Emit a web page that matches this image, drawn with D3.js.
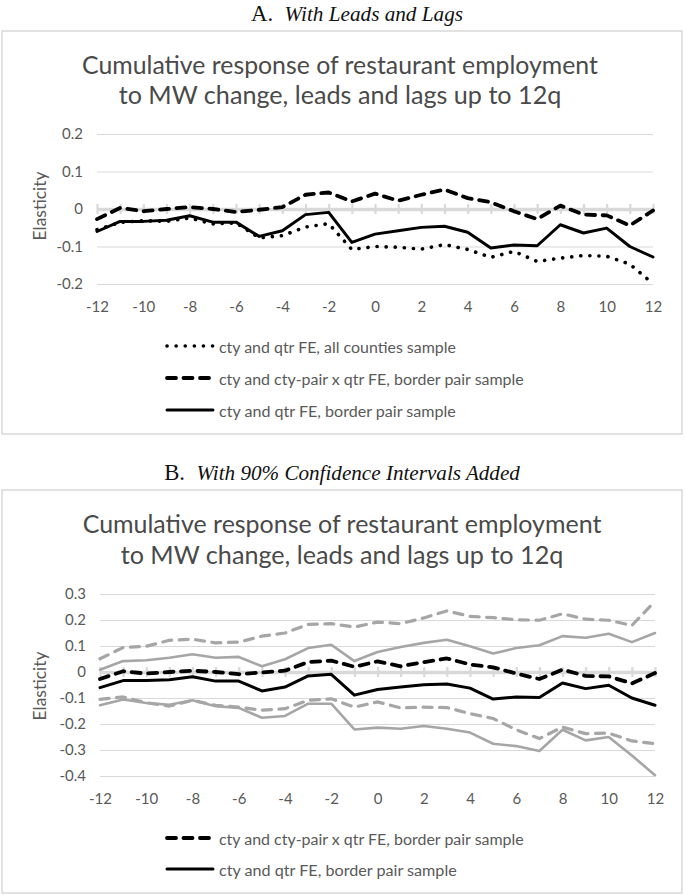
<!DOCTYPE html>
<html>
<head>
<meta charset="utf-8">
<script src="https://cdn.jsdelivr.net/npm/d3@7"></script>
<style>
  html, body { margin: 0; padding: 0; background: #fff; }
  svg { display: block; }
</style>
</head>
<body>
<svg id="chart" width="685" height="895"></svg>
<script>
// ---------- DATA ----------
const quarters = [-12,-11,-10,-9,-8,-7,-6,-5,-4,-3,-2,-1,0,1,2,3,4,5,6,7,8,9,10,11,12];
const xTickLabels = [-12,-10,-8,-6,-4,-2,0,2,4,6,8,10,12];

// cty and qtr FE, all counties sample (dotted)
const allCounties = [-0.055,-0.036,-0.031,-0.033,-0.024,-0.040,-0.037,-0.077,-0.071,-0.048,-0.039,
  -0.108,-0.100,-0.102,-0.107,-0.095,-0.108,-0.129,-0.113,-0.140,-0.131,-0.124,-0.126,-0.147,-0.199];
// cty and cty-pair x qtr FE, border pair sample (dashed)
const ctyPair = [-0.027,0.003,-0.006,0.000,0.005,0.000,-0.008,-0.002,0.005,0.038,0.044,
  0.020,0.041,0.022,0.038,0.052,0.029,0.018,-0.006,-0.027,0.009,-0.015,-0.017,-0.044,-0.004];
// cty and qtr FE, border pair sample (solid)
const borderPair = [-0.060,-0.033,-0.033,-0.030,-0.018,-0.035,-0.035,-0.073,-0.058,-0.015,-0.009,
  -0.089,-0.067,-0.058,-0.049,-0.046,-0.062,-0.104,-0.096,-0.098,-0.042,-0.064,-0.051,-0.100,-0.128];

// 90% confidence intervals
const ctyPairUpper = [0.051,0.094,0.099,0.122,0.126,0.112,0.115,0.138,0.150,0.183,0.186,
  0.173,0.192,0.186,0.208,0.235,0.214,0.209,0.201,0.199,0.224,0.203,0.199,0.179,0.272];
const ctyPairLower = [-0.105,-0.096,-0.118,-0.131,-0.109,-0.128,-0.135,-0.147,-0.141,-0.109,-0.103,
  -0.135,-0.115,-0.138,-0.135,-0.137,-0.160,-0.179,-0.222,-0.256,-0.212,-0.237,-0.235,-0.265,-0.276];
const borderPairUpper = [0.009,0.042,0.045,0.055,0.068,0.055,0.058,0.022,0.049,0.092,0.105,
  0.042,0.077,0.096,0.112,0.124,0.099,0.071,0.092,0.103,0.138,0.132,0.147,0.115,0.150];
const borderPairLower = [-0.128,-0.106,-0.119,-0.126,-0.109,-0.132,-0.138,-0.176,-0.169,-0.122,-0.122,
  -0.221,-0.214,-0.218,-0.208,-0.218,-0.233,-0.276,-0.285,-0.304,-0.222,-0.263,-0.250,-0.321,-0.397];

const ticksA = [0.2, 0.1, 0, -0.1, -0.2];
const ticksB = [0.3, 0.2, 0.1, 0, -0.1, -0.2, -0.3, -0.4];

const chartTitle = ["Cumulative response of restaurant employment", "to MW change, leads and lags up to 12q"];
const yLabel = "Elasticity";
const legendNames = ["cty and qtr FE, all counties sample",
                     "cty and cty-pair x qtr FE, border pair sample",
                     "cty and qtr FE, border pair sample"];

// ---------- STYLE ----------
const FONT = "Lato, 'Open Sans', sans-serif";
const SERIF = "'Liberation Serif', 'DejaVu Serif', serif";
const GRID = "#d9d9d9";
const TXT = "#595959";
const TITLE = "#4a4a4a";
const GRAYLINE = "#a6a6a6";

const styles = {
  dotted: { stroke: "#000", width: 3.6, dash: "0.1 9", cap: "round" },
  dashed: { stroke: "#000", width: 3.8, dash: "9 7.5", cap: "round" },
  solid:  { stroke: "#000", width: 3, dash: null, cap: "round" },
  grayDashed: { stroke: GRAYLINE, width: 3.2, dash: "9 7.5", cap: "round" },
  graySolid:  { stroke: GRAYLINE, width: 2.6, dash: null, cap: "round" }
};

const svg = d3.select("#chart");

function fitWidth(sel, target) {
  const w = sel.node().getComputedTextLength();
  const fs = parseFloat(sel.attr("font-size"));
  sel.attr("font-size", fs * target / w);
}

function drawPanel(cfg) {
  const g = svg.append("g");
  // header
  const hdr = g.append("text")
    .attr("x", cfg.headerX).attr("y", cfg.headerY)
    .attr("text-anchor", "middle")
    .attr("font-family", SERIF).attr("font-size", 21).attr("fill", "#111");
  hdr.append("tspan").text(cfg.headerLetter + "\u00a0\u00a0");
  hdr.append("tspan").attr("font-style", "italic").attr("font-size", 19.5).text(cfg.headerText);
  const hw = hdr.node().getComputedTextLength();
  const k = cfg.headerW / hw;
  hdr.attr("font-size", 21 * k);
  hdr.select("tspan:last-child").attr("font-size", 19.5 * k);

  // box
  g.append("rect")
    .attr("x", 2).attr("y", cfg.boxTop)
    .attr("width", 680).attr("height", cfg.boxBottom - cfg.boxTop)
    .attr("fill", "#fff").attr("stroke", GRID).attr("stroke-width", 1.5);

  // title
  chartTitle.forEach((t, i) => {
    const tt = g.append("text")
      .attr("x", cfg.titleX).attr("y", cfg.titleY[i])
      .attr("text-anchor", "middle")
      .attr("dominant-baseline", "central")
      .attr("font-family", FONT).attr("font-size", 22).attr("fill", TITLE)
      .text(t);
    fitWidth(tt, cfg.titleW[i]);
  });

  const x = d3.scaleLinear().domain([-12, 12]).range(cfg.xRange);
  const y = d3.scaleLinear().domain(cfg.yDomain).range(cfg.yRange);

  // gridlines via axis
  const yAxis = d3.axisLeft(y).tickValues(cfg.yTicks)
    .tickSize(-(cfg.xRange[1] - cfg.xRange[0])).tickPadding(14)
    .tickFormat(d => d === 0 ? "0" : d.toFixed(1));
  const ya = g.append("g").attr("transform", `translate(${cfg.xRange[0]},0)`).call(yAxis);
  ya.select(".domain").remove();
  ya.selectAll(".tick line").attr("stroke", GRID).attr("stroke-width", 1.2);
  ya.selectAll(".tick text").attr("font-family", FONT).attr("font-size", 15).attr("fill", TXT);

  // zero axis with tick marks
  const xAxis = d3.axisBottom(x).tickValues(quarters).tickSize(0).tickFormat("");
  const zeroG = g.append("g").attr("transform", `translate(0,${y(0)})`).call(xAxis);
  zeroG.select(".domain").attr("stroke", GRID).attr("stroke-width", 3.5);
  zeroG.selectAll(".tick line").attr("y1", -5).attr("y2", 5).attr("stroke", GRID).attr("stroke-width", 2.2);

  // x tick labels
  const xLab = d3.axisBottom(x).tickValues(xTickLabels).tickSize(0).tickPadding(0)
    .tickFormat(d => String(d));
  const xl = g.append("g").attr("transform", `translate(0,${cfg.xLabelY})`).call(xLab);
  xl.select(".domain").remove();
  xl.selectAll(".tick text").attr("dy", "0.35em").attr("y", 0)
    .attr("font-family", FONT).attr("font-size", 15).attr("fill", TXT);

  // y label
  g.append("text")
    .attr("transform", `translate(${cfg.yLabelX},${cfg.yLabelY}) rotate(-90)`)
    .attr("text-anchor", "middle").attr("dominant-baseline", "central")
    .attr("font-family", FONT).attr("font-size", 17.5).attr("fill", TXT)
    .text(yLabel);

  const line = d3.line().x((d, i) => x(quarters[i])).y(d => y(d));
  cfg.series.forEach(s => {
    const st = styles[s.style];
    g.append("path").datum(s.values)
      .attr("d", line).attr("fill", "none")
      .attr("stroke", st.stroke).attr("stroke-width", st.width)
      .attr("stroke-linecap", st.cap).attr("stroke-linejoin", "round")
      .attr("stroke-dasharray", st.dash);
  });

  // legend
  cfg.legend.forEach((L, i) => {
    const st = styles[L.style];
    const ly = cfg.legendY[i];
    g.append("line")
      .attr("x1", 167).attr("x2", 213).attr("y1", ly).attr("y2", ly)
      .attr("stroke", st.stroke).attr("stroke-width", st.width)
      .attr("stroke-linecap", st.cap).attr("stroke-dasharray", st.dash);
    const lt = g.append("text")
      .attr("x", 219).attr("y", ly)
      .attr("dominant-baseline", "central")
      .attr("font-family", FONT).attr("font-size", 14.5).attr("fill", TXT)
      .text(L.name);
    fitWidth(lt, L.w);
  });
}

drawPanel({
  headerLetter: "A.", headerText: "With Leads and Lags", headerX: 357, headerY: 21, headerW: 212,
  boxTop: 31, boxBottom: 434,
  titleX: 340, titleY: [64, 94], titleW: [516, 443],
  xRange: [97, 653], yDomain: [-0.2, 0.2], yRange: [284, 134], yTicks: ticksA,
  xLabelY: 307, yLabelX: 39, yLabelY: 206,
  series: [
    { values: allCounties, style: "dotted" },
    { values: ctyPair, style: "dashed" },
    { values: borderPair, style: "solid" }
  ],
  legend: [
    { name: legendNames[0], style: "dotted", w: 237 },
    { name: legendNames[1], style: "dashed", w: 305 },
    { name: legendNames[2], style: "solid", w: 237 }
  ],
  legendY: [346, 378, 410]
});

drawPanel({
  headerLetter: "B.", headerText: "With 90% Confidence Intervals Added", headerX: 342, headerY: 480, headerW: 356,
  boxTop: 490, boxBottom: 893,
  titleX: 342, titleY: [523, 554], titleW: [519, 443],
  xRange: [100, 655], yDomain: [-0.4, 0.3], yRange: [776, 594], yTicks: ticksB,
  xLabelY: 799, yLabelX: 39, yLabelY: 686,
  series: [
    { values: ctyPairUpper, style: "grayDashed" },
    { values: ctyPairLower, style: "grayDashed" },
    { values: borderPairUpper, style: "graySolid" },
    { values: borderPairLower, style: "graySolid" },
    { values: ctyPair, style: "dashed" },
    { values: borderPair, style: "solid" }
  ],
  legend: [
    { name: legendNames[1], style: "dashed", w: 305 },
    { name: legendNames[2], style: "solid", w: 238 }
  ],
  legendY: [838, 869]
});
</script>
</body>
</html>
